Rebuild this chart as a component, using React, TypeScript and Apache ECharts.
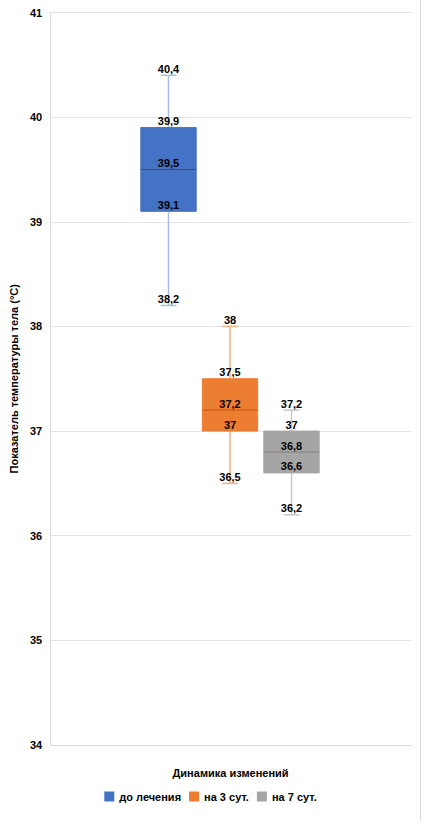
import React, { useEffect, useRef } from "react";
import * as echarts from "echarts";

// Temperature readings (°C) per treatment stage
const groups = ["до лечения", "на 3 сут.", "на 7 сут."];
const minValues = [38.2, 36.5, 36.2];
const q1Values = [39.1, 37.0, 36.6];
const medianValues = [39.5, 37.2, 36.8];
const q3Values = [39.9, 37.5, 37.0];
const maxValues = [40.4, 38.0, 37.2];

const yTicks = [34, 35, 36, 37, 38, 39, 40, 41];

const fillColors = ["#4472C4", "#ED7D31", "#A5A5A5"];
const medianColors = ["#2F528F", "#C55A11", "#7F7F7F"];
const whiskerColors = ["#A9BCE3", "#F4B183", "#C9C9C9"];

const FONT = '"Liberation Sans", Arial, sans-serif';
const fmt = (v: number) => String(v).replace(".", ",");

export default function App() {
  const ref = useRef<HTMLDivElement>(null);

  useEffect(() => {
    if (!ref.current) return;
    const chart = echarts.init(ref.current, null, { renderer: "svg" });

    const renderBox = (idx: number) => (params: any, api: any) => {
      const x = api.value(0);
      const vals = [1, 2, 3, 4, 5].map((d) => api.value(d));
      const pts = vals.map((v) => api.coord([x, v]));
      const cx = pts[0][0];
      const band = api.size([1, 0])[0];
      const boxW = band * 0.9;
      const capW = band * 0.26;
      const [pMin, pQ1, pMed, pQ3, pMax] = pts;
      const whiskerStyle = { stroke: whiskerColors[idx], lineWidth: 1.5 };
      const children: any[] = [
        { type: "line", shape: { x1: cx, y1: pQ3[1], x2: cx, y2: pMax[1] }, style: whiskerStyle },
        { type: "line", shape: { x1: cx, y1: pMin[1], x2: cx, y2: pQ1[1] }, style: whiskerStyle },
        { type: "line", shape: { x1: cx - capW / 2, y1: pMax[1], x2: cx + capW / 2, y2: pMax[1] }, style: whiskerStyle },
        { type: "line", shape: { x1: cx - capW / 2, y1: pMin[1], x2: cx + capW / 2, y2: pMin[1] }, style: whiskerStyle },
        {
          type: "rect",
          shape: { x: cx - boxW / 2, y: pQ3[1], width: boxW, height: pQ1[1] - pQ3[1] },
          style: { fill: fillColors[idx], stroke: fillColors[idx], lineWidth: 1 },
        },
        {
          type: "line",
          shape: { x1: cx - boxW / 2, y1: pMed[1], x2: cx + boxW / 2, y2: pMed[1] },
          style: { stroke: medianColors[idx], lineWidth: 1 },
        },
      ];
      vals.forEach((v, k) => {
        children.push({
          type: "text",
          style: {
            text: fmt(v),
            x: cx,
            y: pts[k][1] - 1,
            align: "center",
            verticalAlign: "bottom",
            fill: "#000",
            font: `bold 11px ${FONT}`,
          },
        });
      });
      return { type: "group", children };
    };

    const option: any = {
      animation: false,
      backgroundColor: "#fff",
      textStyle: { fontFamily: FONT },
      grid: [
        { left: 49, right: 10, top: 12.5, bottom: 76 },
        { left: 137.75, right: 98.75, top: 12.5, bottom: 76 },
      ],
      legend: {
        data: groups,
        left: "center",
        top: 786,
        icon: "rect",
        itemWidth: 10,
        itemHeight: 10,
        itemGap: 8,
        textStyle: { fontFamily: FONT, fontWeight: "bold", fontSize: 11, color: "#000" },
      },
      xAxis: [
        {
          type: "category",
          gridIndex: 0,
          data: [""],
          name: "Динамика изменений",
          nameLocation: "middle",
          nameGap: 22,
          nameTextStyle: { fontFamily: FONT, fontWeight: "bold", fontSize: 11, color: "#000" },
          axisLine: { show: true, lineStyle: { color: "#D9D9D9" } },
          axisTick: { show: false },
          axisLabel: { show: false },
        },
        {
          type: "category",
          gridIndex: 1,
          data: groups,
          show: false,
        },
      ],
      yAxis: [
        {
          type: "value",
          gridIndex: 0,
          min: yTicks[0],
          max: yTicks[yTicks.length - 1],
          interval: 1,
          name: "Показатель температуры тела (°C)",
          nameLocation: "middle",
          nameGap: 30,
          nameTextStyle: { fontFamily: FONT, fontWeight: "bold", fontSize: 11, color: "#000" },
          axisLine: { show: true, lineStyle: { color: "#D9D9D9" } },
          axisTick: { show: false },
          axisLabel: {
            margin: 8,
            fontFamily: FONT,
            fontWeight: "bold",
            fontSize: 11,
            color: "#000",
          },
          splitLine: { show: true, lineStyle: { color: "#E3E3E3", width: 1 } },
        },
        {
          type: "value",
          gridIndex: 1,
          min: yTicks[0],
          max: yTicks[yTicks.length - 1],
          show: false,
          splitLine: { show: false },
        },
      ],
      graphic: [
        {
          type: "line",
          shape: { x1: 420.5, y1: 0, x2: 420.5, y2: 821 },
          style: { stroke: "#D9D9D9", lineWidth: 1 },
        },
      ],
      series: groups.map((name, i) => ({
        type: "custom",
        name,
        xAxisIndex: 1,
        yAxisIndex: 1,
        itemStyle: { color: fillColors[i] },
        encode: { x: 0, y: [1, 2, 3, 4, 5] },
        data: [[i, minValues[i], q1Values[i], medianValues[i], q3Values[i], maxValues[i]]],
        renderItem: renderBox(i),
      })),
    };

    chart.setOption(option);
    return () => chart.dispose();
  }, []);

  return (
    <div
      ref={ref}
      style={{ position: "fixed", left: 0, top: 0, width: 421, height: 821, background: "#fff" }}
    />
  );
}
